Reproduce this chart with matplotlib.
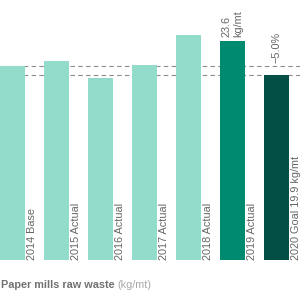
import numpy as np
import matplotlib.pyplot as plt

plt.rcParams['font.family'] = ['Liberation Sans', 'DejaVu Sans']

labels = ['2014 Base', '2015 Actual', '2016 Actual', '2017 Actual',
          '2018 Actual', '2019 Actual', '2020 Goal 19.9 kg/mt']
values = [20.9, 21.4, 19.6, 21.0, 24.2, 23.6, 19.9]
colors = ['#93dbcb'] * 5 + ['#008b71', '#034f46']
base = 20.9
goal = 19.9

fig = plt.figure(figsize=(3, 3), dpi=100)
ax = fig.add_axes([0, 40 / 300, 1, 260 / 300])

w = 0.57
x = np.arange(len(values))
ax.bar(x, values, width=w, color=colors)
ax.set_xlim(-w / 2, -w / 2 + 300 / 44)
ax.set_ylim(0, 28)

for yl in [base, goal]:
    ax.axhline(yl, color='#8c8c8c', lw=0.8, ls=(0, (4, 3)), zorder=0.5)

for i, lab in enumerate(labels):
    ax.text(i + w / 2 + 0.05, 0, lab, rotation=90, ha='left', va='bottom',
            fontsize=7.8, color='#666666')

ax.text(5, values[5] + 0.4, '23.6\nkg/mt', rotation=90, ha='center', va='bottom',
        fontsize=7.8, color='#666666', multialignment='left', linespacing=1.25)
ax.text(6, 21.2, '\u22125.0%', rotation=90, ha='center', va='bottom',
        fontsize=7.8, color='#666666')

ax.axis('off')

t = fig.text(0.003, 15 / 300, 'Paper mills raw waste ', fontsize=7.8, fontweight='bold',
             color='#727272', va='center', ha='left')
fig.canvas.draw()
bb = t.get_window_extent()
fig.text(bb.x1 / 300, 15 / 300, '(kg/mt)', fontsize=7.8, color='#a8a8a8',
         va='center', ha='left')

fig.savefig('out.png', dpi=100)
